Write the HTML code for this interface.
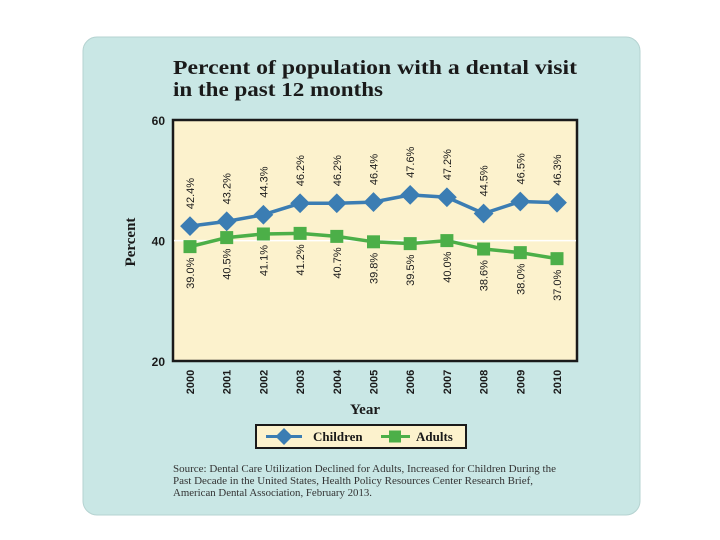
<!DOCTYPE html>
<html><head><meta charset="utf-8"><style>
body{margin:0;background:#fff;}
svg{display:block;font-family:"Liberation Sans",sans-serif;}
</style></head><body>
<svg id="c" width="720" height="540" viewBox="0 0 720 540">
<rect x="83" y="37" width="557" height="478" rx="14" fill="#c9e7e5" stroke="#b5d3d1"/>
<text x="173" y="74" font-family="Liberation Serif,serif" font-weight="bold" font-size="20" fill="#1a1a1a" textLength="404" lengthAdjust="spacingAndGlyphs">Percent of population with a dental visit</text>
<text x="173" y="96" font-family="Liberation Serif,serif" font-weight="bold" font-size="20" fill="#1a1a1a" textLength="210" lengthAdjust="spacingAndGlyphs">in the past 12 months</text>
<rect x="173" y="120" width="404" height="241" fill="#fcf2cd" stroke="#1a1a1a" stroke-width="2.5"/>
<text transform="translate(135,242) rotate(-90)" text-anchor="middle" font-family="Liberation Serif,serif" font-weight="bold" font-size="15" fill="#1a1a1a">Percent</text>
<text x="365" y="414" text-anchor="middle" font-family="Liberation Serif,serif" font-weight="bold" font-size="15" fill="#1a1a1a">Year</text>
<g id="grid"></g><g id="ticks"></g><g id="series"></g>
<rect x="256" y="425" width="210" height="23" fill="#fcf2cd" stroke="#1a1a1a" stroke-width="2"/>
<g>
<line x1="266" y1="436.5" x2="302" y2="436.5" stroke="#3b7db3" stroke-width="3"/>
<rect x="278" y="430.5" width="12" height="12" fill="#3b7db3" transform="rotate(45 284 436.5)"/>
<text x="313" y="441" font-family="Liberation Serif,serif" font-weight="bold" font-size="13" fill="#1a1a1a">Children</text></g>
<g>
<line x1="381" y1="436.5" x2="410" y2="436.5" stroke="#4caf48" stroke-width="3"/>
<rect x="389" y="430.5" width="12" height="12" fill="#4caf48"/>
<text x="416" y="441" font-family="Liberation Serif,serif" font-weight="bold" font-size="13" fill="#1a1a1a">Adults</text></g>
<g font-family="Liberation Serif,serif" font-size="10" fill="#333">
<text x="173" y="472" textLength="383" lengthAdjust="spacingAndGlyphs">Source: Dental Care Utilization Declined for Adults, Increased for Children During the</text>
<text x="173" y="484" textLength="360" lengthAdjust="spacingAndGlyphs">Past Decade in the United States, Health Policy Resources Center Research Brief,</text>
<text x="173" y="496" textLength="199" lengthAdjust="spacingAndGlyphs">American Dental Association, February 2013.</text>
</g>
</svg>
<script>
const years=["2000","2001","2002","2003","2004","2005","2006","2007","2008","2009","2010"];
const children=[42.4,43.2,44.3,46.2,46.2,46.4,47.6,47.2,44.5,46.5,46.3];
const adults=[39.0,40.5,41.1,41.2,40.7,39.8,39.5,40.0,38.6,38.0,37.0];
const yTicks=[20,40,60];
const NS="http://www.w3.org/2000/svg";
const x=i=>190+i*36.7;
const y=v=>361-(v-20)*6.02;
function mk(tag,attrs,parent,txt){const e=document.createElementNS(NS,tag);for(const k in attrs)e.setAttribute(k,attrs[k]);if(txt!==undefined)e.textContent=txt;parent.appendChild(e);return e;}
const grid=document.getElementById('grid'),ticks=document.getElementById('ticks'),ser=document.getElementById('series');
yTicks.forEach(t=>{
  if(t>20&&t<60){const g=mk('line',{x1:174,x2:576,y1:y(t),y2:y(t),stroke:'#fff','stroke-width':1.5},grid);
  
  }
  const l=mk('text',{x:165,y:y(t)+5,'text-anchor':'end','font-size':12,'font-weight':'bold',fill:'#1a1a1a'},ticks,String(t));
  
  
});
years.forEach((yr,i)=>{
  const l=mk('text',{transform:`translate(${x(i)+4},382) rotate(-90)`,'text-anchor':'middle','font-size':11,'font-weight':'bold',fill:'#1a1a1a'},ticks,yr);
  
  
});
function line(vals,color,name){
  const p=mk('polyline',{points:vals.map((v,i)=>x(i)+','+y(v)).join(' '),fill:'none',stroke:color,'stroke-width':3.5},ser);
  
  
}
line(children,'#3b7db3','children');
line(adults,'#4caf48','adults');
children.forEach((v,i)=>{
  const m=mk('rect',{x:x(i)-7,y:y(v)-7,width:14,height:14,fill:'#3b7db3',transform:`rotate(45 ${x(i)} ${y(v)})`},ser);
  
  
  const t=mk('text',{transform:`translate(${x(i)+4},${y(v)-17}) rotate(-90)`,'font-size':11,fill:'#1a1a1a'},ser,v.toFixed(1)+'%');
  
  
});
adults.forEach((v,i)=>{
  const m=mk('rect',{x:x(i)-6.5,y:y(v)-6.5,width:13,height:13,fill:'#4caf48'},ser);
  
  
  const t=mk('text',{transform:`translate(${x(i)+4},${y(v)+11}) rotate(-90)`,'font-size':11,'text-anchor':'end',fill:'#1a1a1a'},ser,v.toFixed(1)+'%');
  
  
});
</script>
</body></html>
